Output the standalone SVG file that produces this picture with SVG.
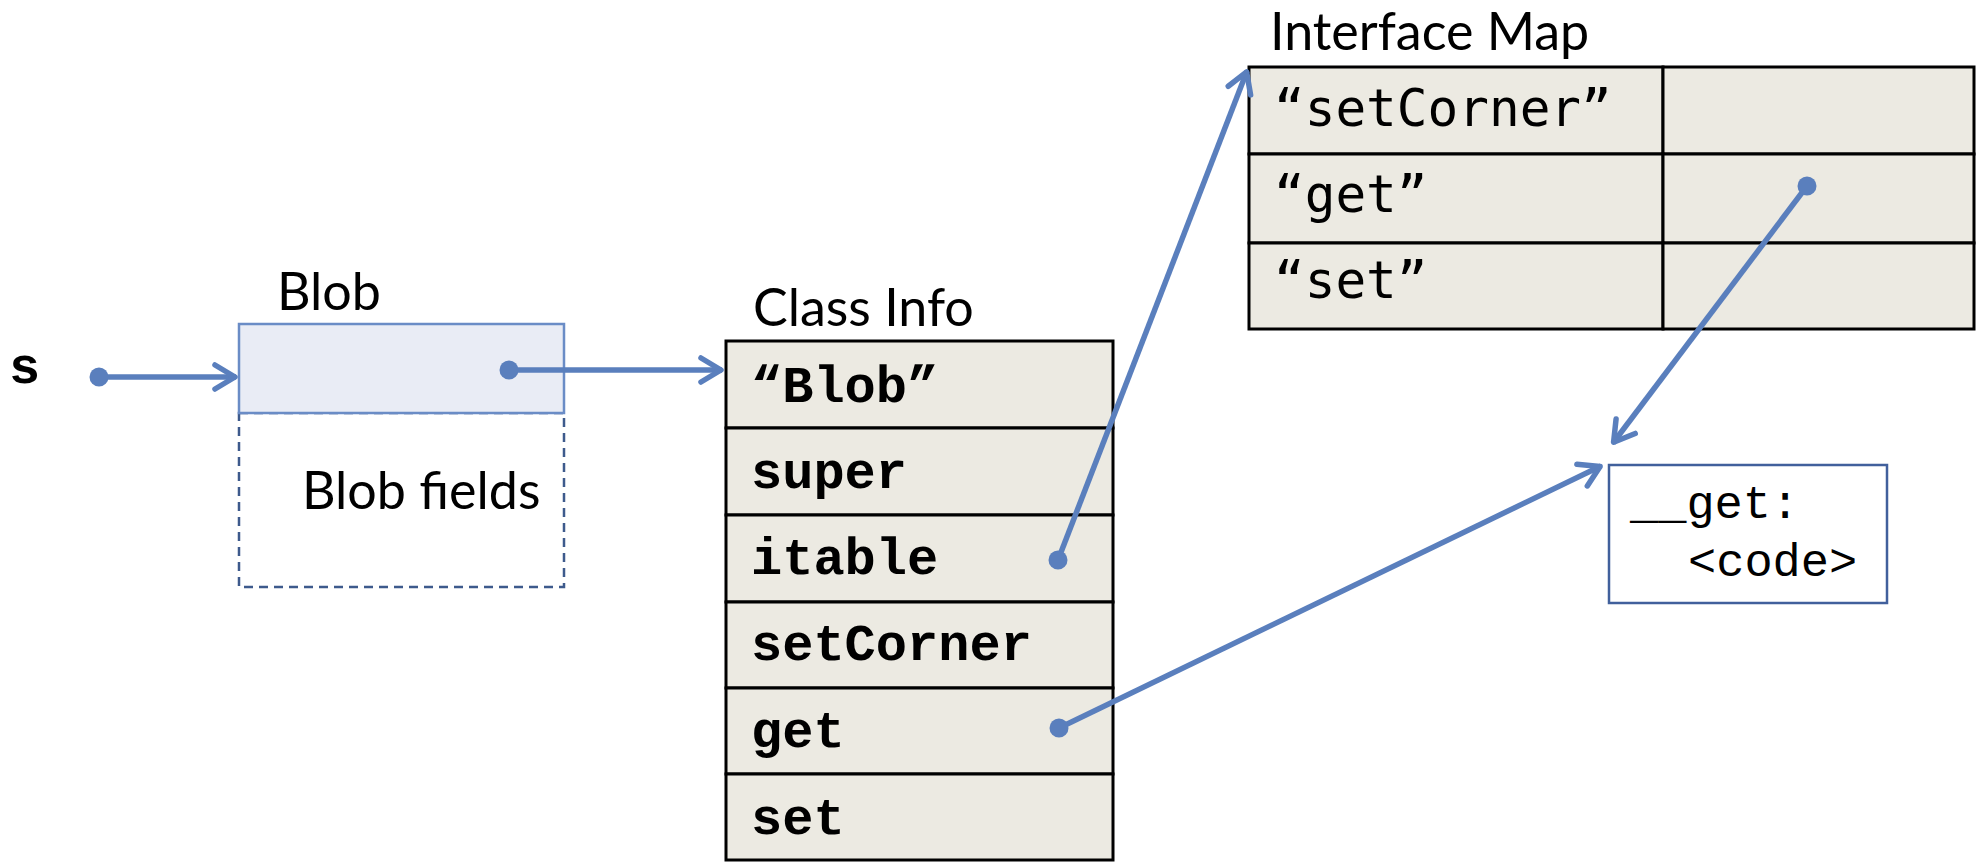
<svg xmlns="http://www.w3.org/2000/svg" width="1982" height="868" viewBox="0 0 1982 868">
<defs>
<style>
.lbl{font-family:Lato,"Open Sans",sans-serif;font-size:52px;fill:#000}
.ci{font-family:"Liberation Mono","Courier New",monospace;font-weight:bold;font-size:52px;fill:#000}
.im{font-family:"DejaVu Sans Mono",monospace;font-size:51px;fill:#000}
.code{font-family:"Liberation Mono","Courier New",monospace;font-size:47px;fill:#000}
.cell{fill:#ECEAE2;stroke:#000;stroke-width:3}
.conn{stroke:#5A7FBD;stroke-width:5.5;fill:none;marker-end:url(#arr)}
.dot{fill:#5A7FBD}
</style>
<marker id="arr" markerUnits="userSpaceOnUse" viewBox="-28 -18 32 36" refX="0" refY="0" markerWidth="32" markerHeight="36" orient="auto" overflow="visible">
<path d="M-21,-12 L-1,0 L-21,12" fill="none" stroke="#5A7FBD" stroke-width="5.5" stroke-linecap="round" stroke-linejoin="round"/>
</marker>
</defs>
<rect width="1982" height="868" fill="#fff"/>

<g id="s-var">
<text class="ci" x="9" y="383">s</text>
</g>

<g id="blob">
<text class="lbl" x="277" y="310">Blob</text>
<rect x="239" y="413" width="325" height="174" fill="none" stroke="#3D5A8C" stroke-width="2.5" stroke-dasharray="9,6"/>
<rect x="239" y="324" width="325" height="89" fill="#E9ECF5" stroke="#6A8CC6" stroke-width="2.5"/>
<text class="lbl" x="302" y="509">Blob fields</text>
</g>

<g id="class-info">
<text class="lbl" x="753" y="326">Class Info</text>
<rect class="cell" x="726" y="341" width="387" height="87"/>
<rect class="cell" x="726" y="428" width="387" height="87"/>
<rect class="cell" x="726" y="515" width="387" height="87"/>
<rect class="cell" x="726" y="602" width="387" height="86"/>
<rect class="cell" x="726" y="688" width="387" height="86"/>
<rect class="cell" x="726" y="774" width="387" height="86"/>
<text class="ci" x="751" y="402">“Blob”</text>
<text class="ci" x="751" y="488">super</text>
<text class="ci" x="751" y="574">itable</text>
<text class="ci" x="751" y="660">setCorner</text>
<text class="ci" x="751" y="747">get</text>
<text class="ci" x="751" y="834">set</text>
</g>

<g id="interface-map">
<text class="lbl" x="1270" y="50">Interface Map</text>
<rect class="cell" x="1249" y="67" width="414" height="87"/>
<rect class="cell" x="1663" y="67" width="311" height="87"/>
<rect class="cell" x="1249" y="154" width="414" height="89"/>
<rect class="cell" x="1663" y="154" width="311" height="89"/>
<rect class="cell" x="1249" y="243" width="414" height="86"/>
<rect class="cell" x="1663" y="243" width="311" height="86"/>
<text class="im" x="1274" y="126">“setCorner”</text>
<text class="im" x="1274" y="212">“get”</text>
<text class="im" x="1274" y="298">“set”</text>
</g>

<g id="code">
<rect x="1609" y="465" width="278" height="138" fill="#fff" stroke="#41609C" stroke-width="2.5"/>
<text class="code" x="1630" y="518">__get:</text>
<text class="code" x="1688" y="576">&lt;code&gt;</text>
</g>

<g id="connectors">
<line class="conn" x1="99" y1="377" x2="236" y2="377"/>
<circle class="dot" cx="99" cy="377" r="9.5"/>
<line class="conn" x1="509" y1="370" x2="722" y2="370"/>
<circle class="dot" cx="509" cy="370" r="9.5"/>
<line class="conn" x1="1058" y1="560" x2="1247" y2="71"/>
<circle class="dot" cx="1058" cy="560" r="9.5"/>
<line class="conn" x1="1059" y1="728" x2="1601" y2="466"/>
<circle class="dot" cx="1059" cy="728" r="9.5"/>
<line class="conn" x1="1807" y1="186" x2="1613" y2="443"/>
<circle class="dot" cx="1807" cy="186" r="9.5"/>
</g>
</svg>
